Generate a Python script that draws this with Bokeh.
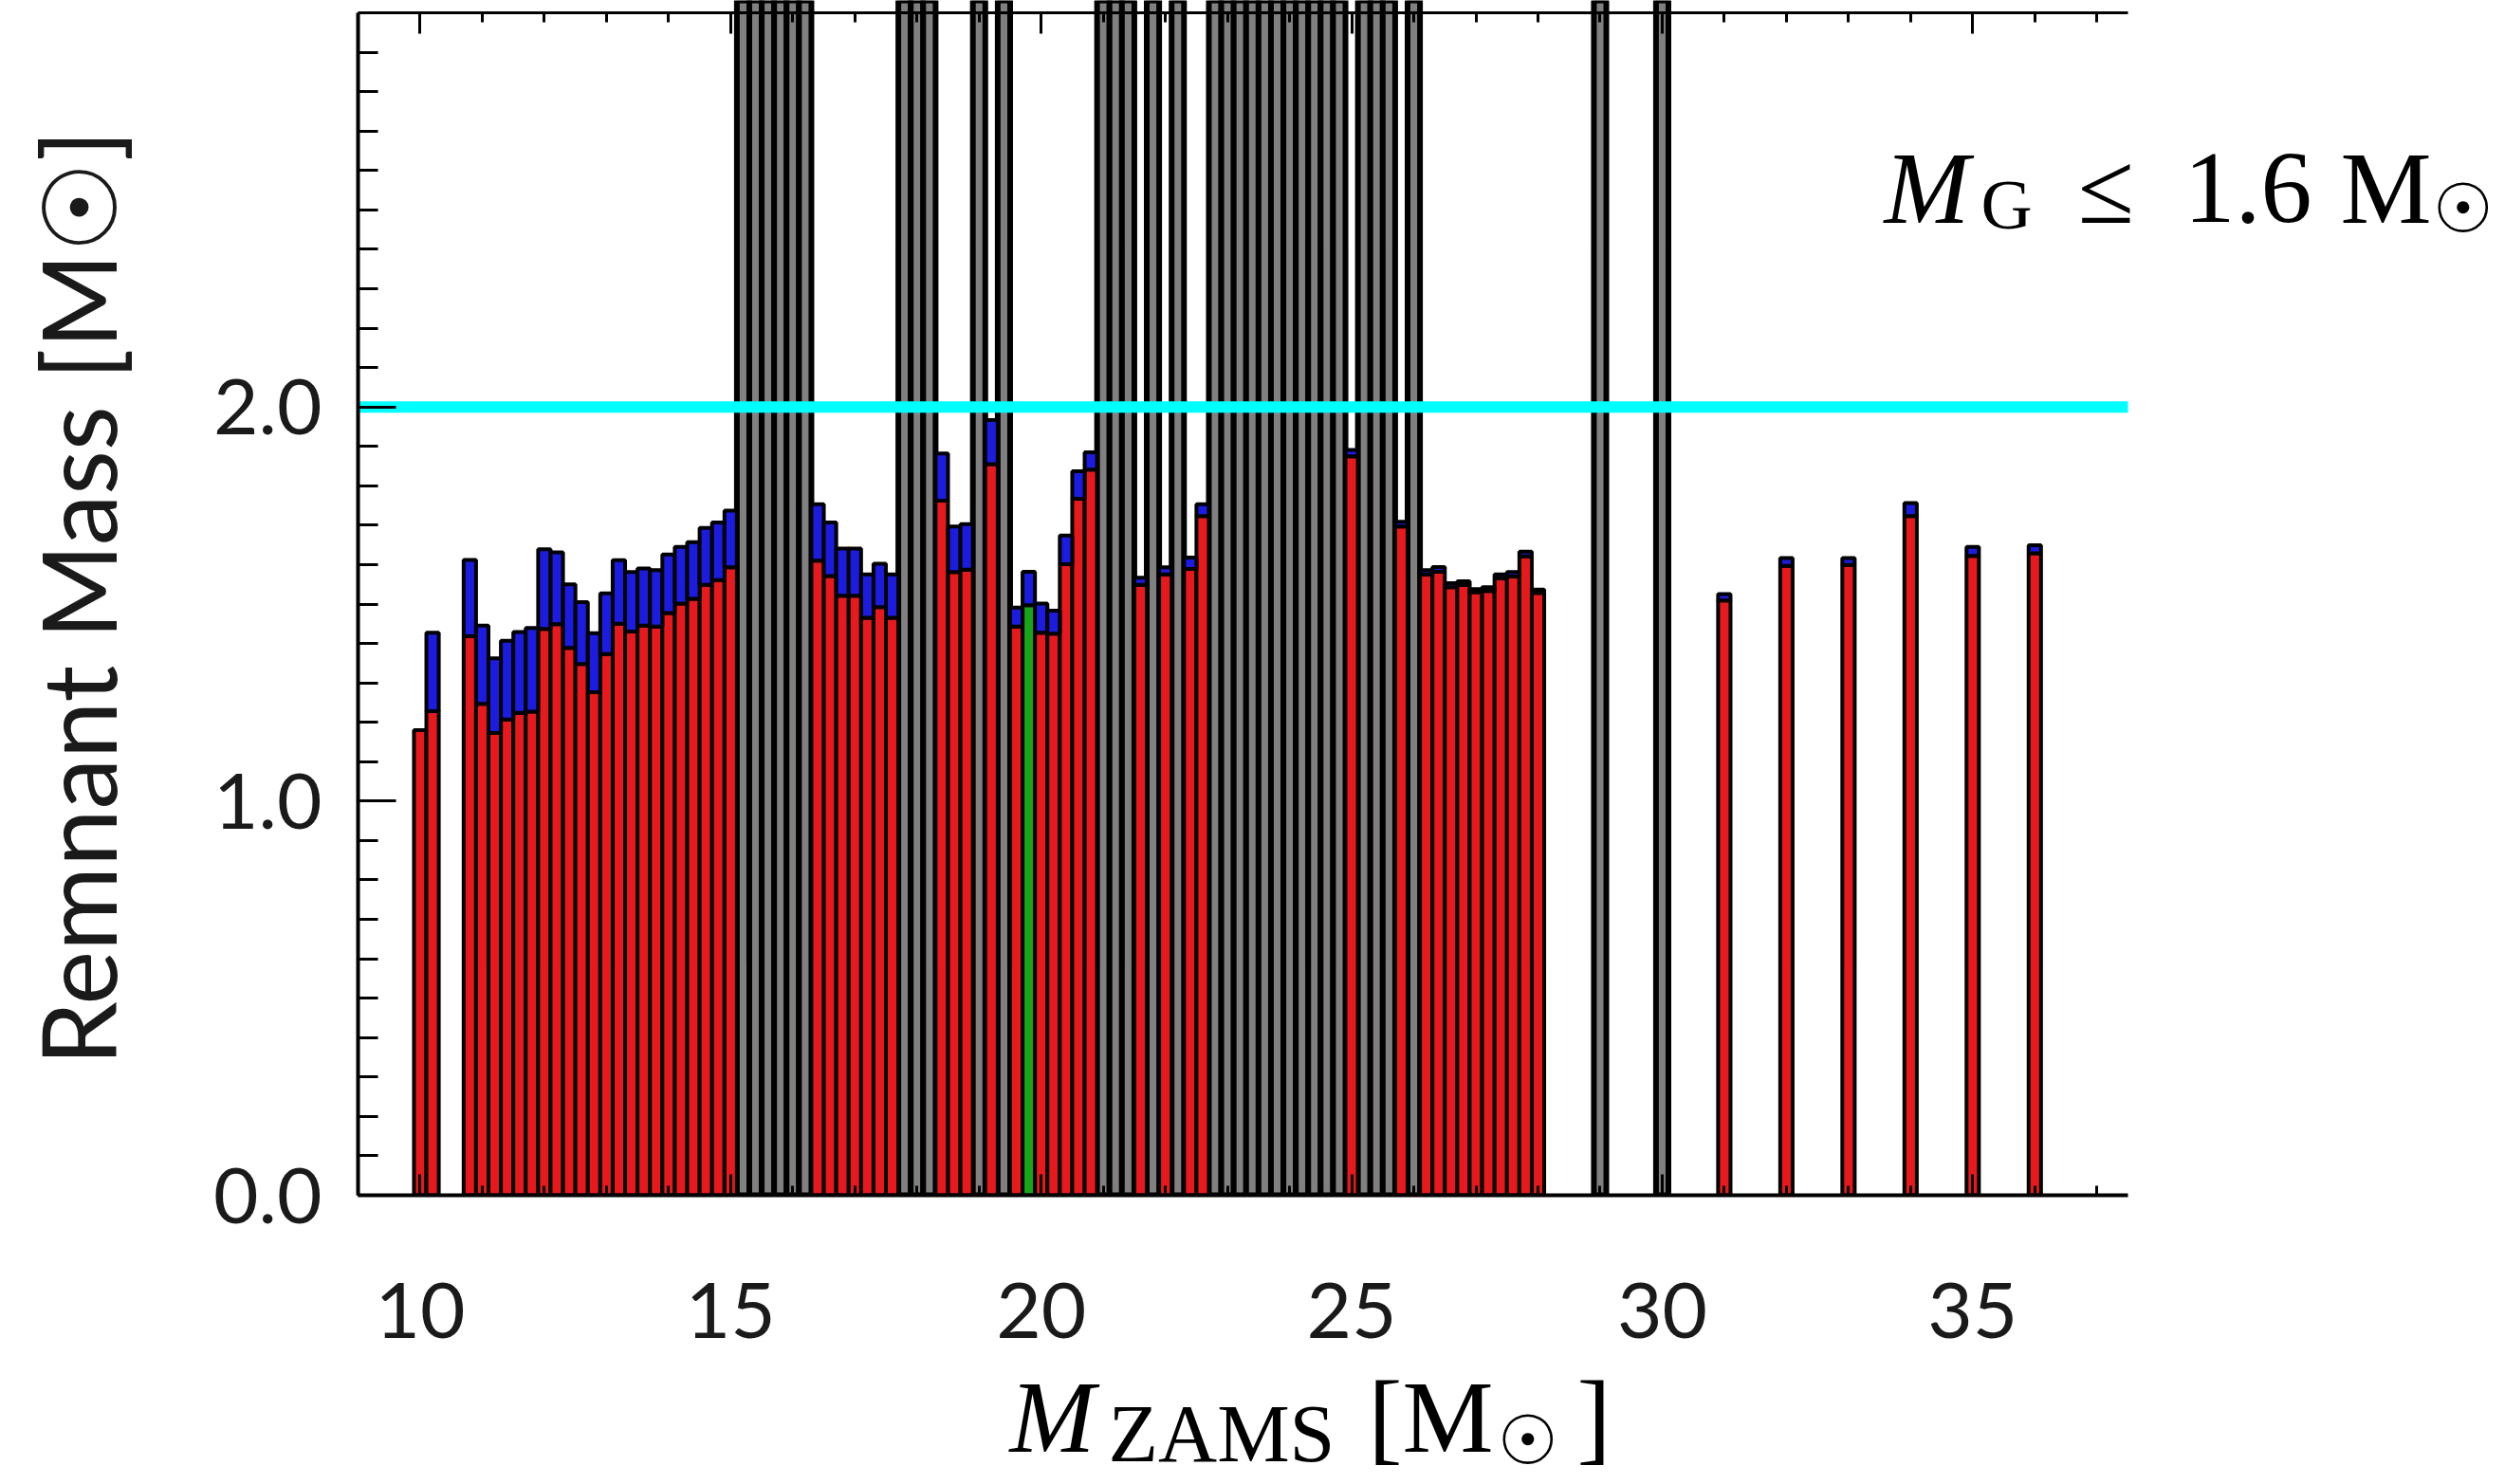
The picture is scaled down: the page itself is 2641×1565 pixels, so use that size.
from bokeh.plotting import figure
from bokeh.layouts import column
from bokeh.models import (Label, FixedTicker, PrintfTickFormatter, LinearAxis,
                          ColumnDataSource, Range1d)
from bokeh.embed import file_html
from bokeh.resources import INLINE

# ---------------- data ----------------
# ZAMS masses of models that leave a neutron star
ns_mzams = [10.0, 10.2, 10.8, 11.0, 11.2, 11.4, 11.6, 11.8, 12.0, 12.2, 12.4, 12.6, 12.8,
            13.0, 13.2, 13.4, 13.6, 13.8, 14.0, 14.2, 14.4, 14.6, 14.8, 15.0,
            16.4, 16.6, 16.8, 17.0, 17.2, 17.4, 17.6, 18.4, 18.6, 18.8, 19.2,
            19.6, 19.8, 20.0, 20.2, 20.4, 20.6, 20.8, 21.6, 22.0, 22.4, 22.6,
            25.0, 25.8, 26.2, 26.4, 26.6, 26.8, 27.0, 27.2, 27.4, 27.6, 27.8, 28.0,
            31.0, 32.0, 33.0, 34.0, 35.0, 36.0]
# gravitational NS mass (red part)
ns_grav = [1.18, 1.228, 1.418, 1.247, 1.173, 1.207, 1.224, 1.227, 1.437, 1.449, 1.389, 1.348, 1.276,
           1.373, 1.450, 1.430, 1.445, 1.443, 1.477, 1.501, 1.513, 1.549, 1.561, 1.593,
           1.610, 1.571, 1.521, 1.521, 1.465, 1.492, 1.465, 1.762, 1.581, 1.587, 1.855,
           1.443, 1.497, 1.427, 1.425, 1.601, 1.767, 1.841, 1.549, 1.575, 1.589, 1.723,
           1.875, 1.697, 1.575, 1.582, 1.543, 1.549, 1.530, 1.533, 1.565, 1.570, 1.621, 1.528,
           1.509, 1.597, 1.599, 1.723, 1.622, 1.629]
# baryonic NS mass (top of the blue part)
ns_bary = [1.18, 1.427, 1.612, 1.445, 1.362, 1.407, 1.429, 1.439, 1.639, 1.631, 1.550, 1.505, 1.426,
           1.527, 1.611, 1.581, 1.590, 1.586, 1.626, 1.645, 1.657, 1.693, 1.707, 1.737,
           1.753, 1.707, 1.641, 1.641, 1.575, 1.602, 1.575, 1.882, 1.697, 1.703, 1.967,
           1.491, 1.582, 1.501, 1.483, 1.674, 1.837, 1.885, 1.567, 1.593, 1.618, 1.753,
           1.891, 1.709, 1.586, 1.594, 1.553, 1.558, 1.538, 1.543, 1.575, 1.581, 1.633, 1.537,
           1.525, 1.617, 1.617, 1.756, 1.645, 1.649]
# highlighted model (green)
special_mzams = [19.8]
# ZAMS masses of models that form a black hole (grey, off-scale)
bh_mzams = [15.2, 15.4, 15.6, 15.8, 16.0, 16.2, 17.8, 18.0, 18.2, 19.0, 19.4,
            21.0, 21.2, 21.4, 21.8, 22.2, 22.8, 23.0, 23.2, 23.4, 23.6, 23.8, 24.0,
            24.2, 24.4, 24.6, 24.8, 25.2, 25.4, 25.6, 26.0, 29.0, 30.0]
# maximum NS mass line
max_ns_mass = 2.0

x_major = [10, 15, 20, 25, 30, 35]
x_minor = list(range(9, 38))
y_major = [0, 1, 2]
y_minor = [i / 10 for i in range(31)]

# ---------------- geometry ----------------
W, H = 2641, 1565
H1 = 1440                      # height of the main figure
OVERLAP = 40                   # label strip overlaps the (empty) bottom of the main figure
FL, FB = 377, 1260             # frame left / x-axis position (canvas px)
Y_TOP_PX = 15                  # canvas row of the top axis (y = 3.0)
TOP_PANEL = 2                  # approx. size of the (label-less) top axis panel
AX_END = 2243                  # where the x axes end (canvas px)
XA = (9.0, 37.5)               # x-axis domain
YA = (0.0, 3.0)                # y-axis domain
PXU = (AX_END - FL) / (XA[1] - XA[0])
PYU = (FB - Y_TOP_PX) / (YA[1] - YA[0])
XR = (XA[0], XA[0] + (W - FL) / PXU)            # frame runs to the right canvas edge
YR = (YA[0], YA[1] + (Y_TOP_PX - TOP_PANEL) / PYU)  # frame runs to the canvas top

p = figure(width=W, height=H1, x_range=Range1d(*XR), y_range=Range1d(*YR),
           output_backend="svg", toolbar_location=None,
           min_border_left=FL, min_border_right=0, min_border_top=0,
           min_border_bottom=H1 - FB)
p.grid.visible = False
p.outline_line_color = None
p.background_fill_color = "white"
p.border_fill_color = "white"

TICK_FONT = "Lato"
LBL_COLOR = "#1a1a1a"

xa = p.xaxis[0]
xa.bounds = XA
xa.ticker = FixedTicker(ticks=x_major, minor_ticks=x_minor)
xa.axis_line_width = 4
xa.major_tick_in = 22
xa.major_tick_out = 0
xa.minor_tick_in = 10
xa.minor_tick_out = 0
xa.major_tick_line_width = 3
xa.minor_tick_line_width = 3
xa.major_label_text_font = TICK_FONT
xa.major_label_text_font_size = "82px"
xa.major_label_text_color = LBL_COLOR
xa.major_label_standoff = 92

ya = p.yaxis[0]
ya.bounds = YA
ya.ticker = FixedTicker(ticks=y_major, minor_ticks=y_minor)
ya.formatter = PrintfTickFormatter(format="%.1f")
ya.axis_line_width = 4
ya.major_tick_in = 40
ya.major_tick_out = 0
ya.minor_tick_in = 21
ya.minor_tick_out = 0
ya.major_tick_line_width = 3
ya.minor_tick_line_width = 3
ya.major_label_text_font = TICK_FONT
ya.major_label_text_font_size = "82px"
ya.major_label_text_color = LBL_COLOR
ya.major_label_standoff = 38
ya.axis_label = "Remnant Mass [M☉]"
ya.axis_label_text_font = TICK_FONT
ya.axis_label_text_font_size = "108px"
ya.axis_label_text_font_style = "normal"
ya.axis_label_text_color = LBL_COLOR
ya.axis_label_standoff = 76

top = LinearAxis(ticker=FixedTicker(ticks=x_major, minor_ticks=x_minor), bounds=XA,
                 fixed_location=YA[1],
                 major_tick_in=22, major_tick_out=0, minor_tick_in=10, minor_tick_out=0,
                 major_tick_line_width=3, minor_tick_line_width=3, axis_line_width=3,
                 major_label_overrides={t: "" for t in x_major},
                 major_label_text_font_size="1px", major_label_standoff=0)
p.add_layout(top, "above")

# ---------------- bars ----------------
RED, BLUE, GREEN, GREY = "#E8191C", "#1C1CE0", "#19A519", "#808080"
BAR_W = 0.2

bh_src = ColumnDataSource(dict(x=bh_mzams, top=[YR[1] + 0.5] * len(bh_mzams)))
p.vbar(x="x", width=BAR_W, bottom=0, top="top", source=bh_src,
       fill_color=GREY, line_color="black", line_width=6)

ns_src = ColumnDataSource(dict(
    x=ns_mzams, grav=ns_grav, bary=ns_bary,
    col=[GREEN if m in special_mzams else RED for m in ns_mzams]))
p.vbar(x="x", width=BAR_W, bottom=0, top="grav", source=ns_src,
       fill_color="col", line_color="black", line_width=4)
p.vbar(x="x", width=BAR_W, bottom="grav", top="bary", source=ns_src,
       fill_color=BLUE, line_color="black", line_width=4)

# maximum-mass line across the axis domain
p.segment(x0=[XA[0]], x1=[XA[1]], y0=[max_ns_mass], y1=[max_ns_mass],
          line_color="#00FFFF", line_width=12)


# ---------------- LaTeX-like texts ----------------
def dx(fx):
    return XA[0] + (fx - FL) / PXU


def dy(fy):
    return YA[0] + (FB - fy) / PYU


def tex(fig, txt, x, y, size, style="normal", font="Liberation Serif"):
    fig.add_layout(Label(x=x, y=y, text=txt, text_font=font,
                         text_font_size=f"{size}px", text_font_style=style,
                         text_color="black", text_align="left",
                         text_baseline="alphabetic"))


# M_G <= 1.6 Msun  (inside the extended frame of the main figure)
tex(p, "M", dx(1986), dy(200), 108, "italic")
tex(p, "G", dx(2088), dy(217), 75)
tex(p, "≤", dx(2190), dy(200), 108)
tex(p, "1.6", dx(2302), dy(200), 108)
tex(p, "M", dx(2467), dy(200), 108)
tex(p, "☉", dx(2564), dy(221), 72, font="DejaVu Sans")

# transparent strip below the main figure holding the x-axis title; its frame is
# aligned with the main frame, so it shares the x mapping
Q_TOP = H1 - OVERLAP
q = figure(width=W, height=H - Q_TOP, x_range=p.x_range, y_range=Range1d(H, Q_TOP),
           output_backend="svg", toolbar_location=None,
           x_axis_type=None, y_axis_type=None, margin=(-OVERLAP, 0, 0, 0),
           min_border_left=0, min_border_right=0, min_border_top=0, min_border_bottom=0)
q.grid.visible = False
q.outline_line_color = None
q.background_fill_alpha = 0
q.border_fill_alpha = 0

tex(q, "M", dx(1064), 1494, 108, "italic")
tex(q, "ZAMS", dx(1168), 1511, 86)
tex(q, "[M", dx(1442), 1494, 108)
tex(q, "☉", dx(1578), 1518, 72, font="DejaVu Sans")
tex(q, "]", dx(1662), 1494, 108)

layout = column(p, q, spacing=0)
open("out.html", "w").write(file_html(layout, INLINE))
